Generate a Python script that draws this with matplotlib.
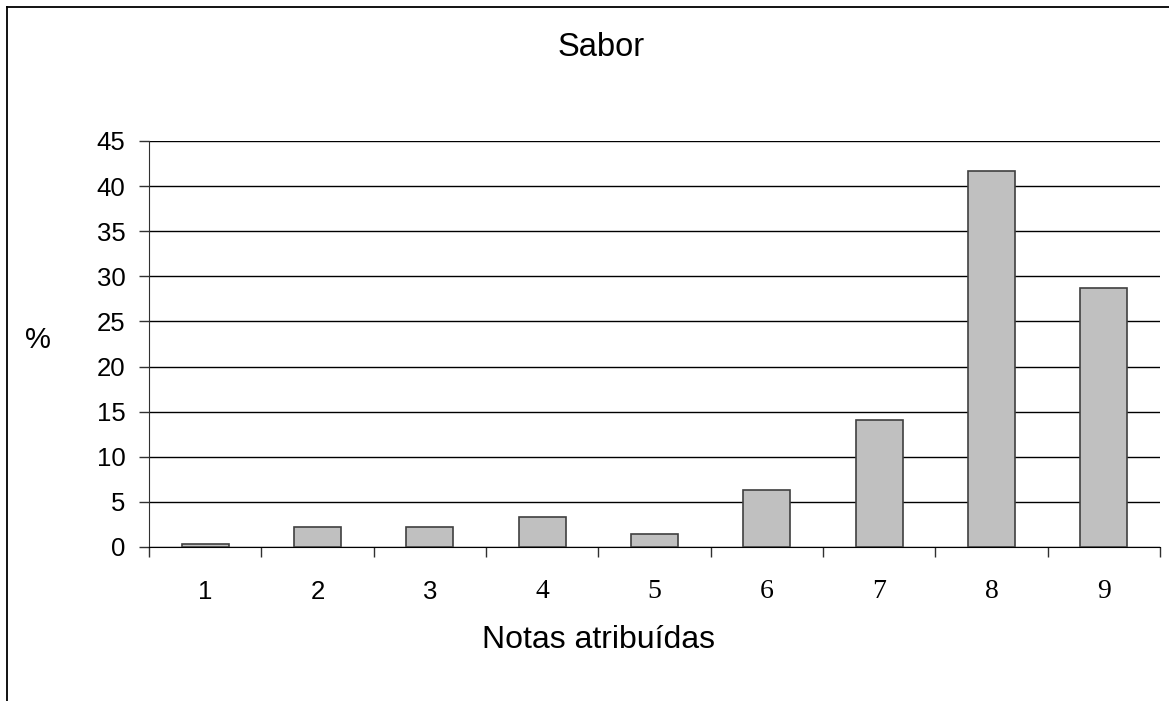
import numpy as np
import matplotlib.pyplot as plt
from matplotlib.lines import Line2D
from matplotlib import font_manager as fm
import matplotlib.transforms as mtransforms

# notas atribuidas e percentagem
notas = ['1', '2', '3', '4', '5', '6', '7', '8', '9']
perc = [0.3, 2.2, 2.2, 3.3, 1.4, 6.3, 14.1, 41.7, 28.7]
yticks = [0, 5, 10, 15, 20, 25, 30, 35, 40, 45]

plt.rcParams['font.sans-serif'] = ['Liberation Sans', 'DejaVu Sans']
plt.rcParams['font.serif'] = ['Liberation Serif', 'DejaVu Serif']
plt.rcParams['font.family'] = 'sans-serif'

sans_file = fm.findfont(fm.FontProperties(family=['Liberation Sans']))
serif_file = fm.findfont(fm.FontProperties(family=['Liberation Serif']))

fig = plt.figure(figsize=(11.69, 7.01), dpi=100)
ax = fig.add_axes([149/1169, 1-547/701, (1160-149)/1169, (547-141)/701])

x = np.arange(len(notas))
ax.bar(x, perc, width=0.42, color='#c0c0c0', edgecolor='#404040', linewidth=1.2, zorder=3)

ax.set_xlim(-0.5, len(notas) - 0.5)
ax.set_ylim(0, 45)
ax.set_yticks(yticks)
ax.set_yticklabels([str(v) for v in yticks], fontsize=18.5)
ax.yaxis.grid(True, color='black', linewidth=1, zorder=0)

# marcas nas fronteiras das categorias, rotulos escritos a parte
ax.set_xticks(np.arange(len(notas) + 1) - 0.5)
ax.set_xticklabels([])
ax.tick_params(axis='x', length=7, width=1, color='#303030', direction='out')
ax.tick_params(axis='y', length=7, width=1, pad=10, color='#303030')

# 1-3 em fonte sem serifa, 4-9 com serifa (como no original)
trans = mtransforms.blended_transform_factory(ax.transData, ax.transAxes)
for i, nota in enumerate(notas):
    if i < 3:
        fp = fm.FontProperties(fname=sans_file, size=18.5)
    else:
        fp = fm.FontProperties(fname=serif_file, size=20)
    ax.text(x[i], -45/406, nota, transform=trans, ha='center', va='center',
            fontproperties=fp)

ax.spines['top'].set_visible(False)
ax.spines['right'].set_visible(False)
ax.spines['left'].set_color('#303030')
ax.spines['bottom'].set_color('black')

fig.text(601/1169, 1-48/701, 'Sabor', ha='center', va='center', fontsize=23.5)
fig.text(598/1169, 1-640/701, 'Notas atribuídas', ha='center', va='center', fontsize=23)
fig.text(38/1169, 1-340/701, '%', ha='center', va='center', fontsize=21)

# moldura do grafico (so topo e esquerda visiveis)
fig.add_artist(Line2D([7/1169, 1.0], [1-7/701, 1-7/701], transform=fig.transFigure, color='black', linewidth=1.3))
fig.add_artist(Line2D([7/1169, 7/1169], [1-7/701, 0.0], transform=fig.transFigure, color='black', linewidth=1.3))

fig.savefig('out.png', dpi=100)
